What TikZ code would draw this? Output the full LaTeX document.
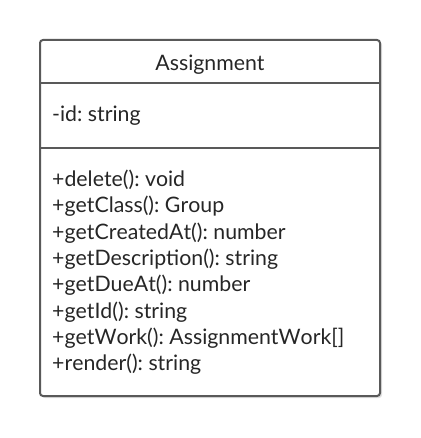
\documentclass[tikz,border=0pt]{standalone}
\usepackage{fontspec}
\setmainfont{Lato}[Kerning=Off]
\frenchspacing
\begin{document}
\begin{tikzpicture}[x=1pt,y=-1pt,
  frame/.style={draw=black!65,line width=2pt,rounded corners=3pt},
  sep/.style={draw=black!65,line width=2pt},
  txt/.style={font=\fontsize{21.3}{26}\selectfont,text=black!85,inner sep=0pt,anchor=base west}]
\useasboundingbox (0,0) rectangle (420,438);
\fill[black!12,rounded corners=3pt] (42,42) rectangle (382,398);
\draw[frame,fill=white] (40,40) rectangle (380,396);
\coordinate (l1) at (40,83);
\coordinate (r1) at (380,83);
\coordinate (l2) at (40,148);
\coordinate (r2) at (380,148);
\draw[sep] (l1) -- (r1);
\draw[sep] (l2) -- (r2);
\node[txt,anchor=base] (title) at (210,71) {Assignment};
\node[txt] (attr) at (52,121.5) {-id: string};
\node[txt] (m1) at (52,186.5) {+delete(): void};
\node[txt] (m2) at (52,212.8) {+getClass(): Group};
\node[txt] (m3) at (52,239.1) {+getCreatedAt(): number};
\node[txt] (m4) at (52,265.4) {+getDescription(): string};
\node[txt] (m5) at (52,291.7) {+getDueAt(): number};
\node[txt] (m6) at (52,318.0) {+getId(): string};
\node[txt] (m7) at (52,344.3) {+getWork(): AssignmentWork[]};
\node[txt] (m8) at (52,370.6) {+render(): string};
\end{tikzpicture}
\end{document}
